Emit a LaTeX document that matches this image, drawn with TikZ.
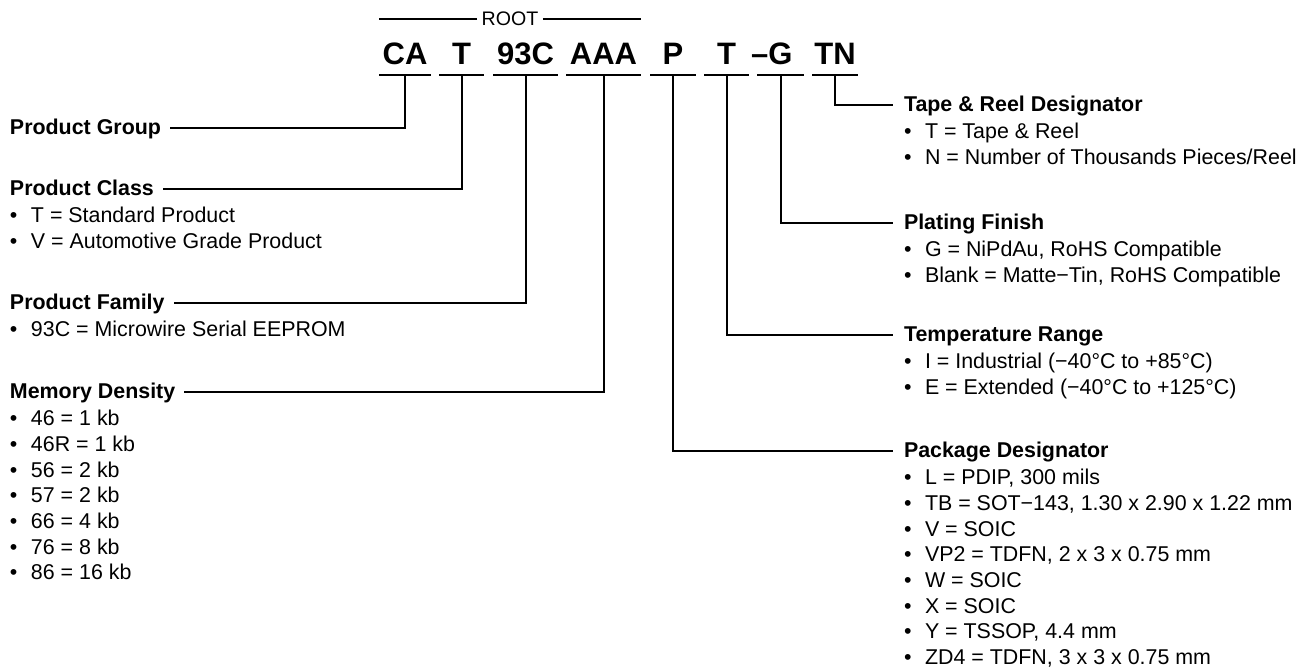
\documentclass[tikz,border=0pt]{standalone}
\usepackage{fontspec}
\setmainfont{Liberation Sans}
\usetikzlibrary{positioning,calc}
\newcommand{\bul}[1]{\makebox[10.5pt][l]{\textbullet}#1}

\begin{document}
\begin{tikzpicture}[x=0.5pt,y=-0.5pt,line width=1pt,
  field/.style={font=\fontsize{15.5}{18}\selectfont\bfseries,inner xsep=0pt,inner ysep=4.5pt,text depth=0pt,anchor=base},
  head/.style={font=\fontsize{10.7}{12.8}\selectfont\bfseries,inner sep=0pt,anchor=base west},
  itm/.style={font=\fontsize{10.7}{12.8}\selectfont,inner sep=0pt,anchor=base west}]
\useasboundingbox (0,0) rectangle (1304,672);
% part number fields, each one underlined
\foreach \n/\x/\w/\lbl in {ca/405/50/CA,cls/461.5/43/T,fam/525.5/63/93C,dens/603.5/73/AAA,
    pkg/673/44/P,tmp/726.5/43/T,fin/780.5/45/\llap{–}G,tnr/835/44/TN}{
  \node[field,minimum width=\w*0.5pt] (\n) at (\x,65) {\lbl};
  \draw (\n.south west) -- (\n.south east);
}
\node[font=\fontsize{9.8}{12}\selectfont,inner xsep=1.75pt,inner ysep=0pt] (root) at (510,19) {ROOT};
\draw (root.west) -- (root.west -| ca.south west);
\draw (root.east) -- (root.east -| dens.south east);
% left column
\node[head] (pg) at (9,135) {Product Group};
\node[head] (pc) at (9,196) {Product Class};
\node[head] (pfam) at (9,310) {Product Family};
\node[head] (md) at (9,399) {Memory Density};
% right column
\node[head] (tape) at (903,112) {Tape \& Reel Designator};
\node[head] (plat) at (903,230) {Plating Finish};
\node[head] (trange) at (903,342) {Temperature Range};
\node[head] (pkgd) at (903,458) {Package Designator};
\foreach \f/\h in {ca/pg,cls/pc,fam/pfam,dens/md}
  \draw (\f.south) |- ([xshift=4pt,yshift=3.5pt]\h.base east);
\foreach \f/\h in {pkg/pkgd,tmp/trange,fin/plat,tnr/tape}
  \draw (\f.south) |- ([xshift=-5pt,yshift=3.5pt]\h.base west);
% bullet lists
\foreach \s [count=\k] in {T = Standard Product,V = Automotive Grade Product}
  \node[itm] at ([yshift={-13.5pt-(\k-1)*12.8pt}]pc.base west) {\bul{\s}};
\foreach \s [count=\k] in {93C = Microwire Serial EEPROM}
  \node[itm] at ([yshift={-13.5pt-(\k-1)*12.8pt}]pfam.base west) {\bul{\s}};
\foreach \s [count=\k] in {46 = 1 kb,46R = 1 kb,56 = 2 kb,57 = 2 kb,66 = 4 kb,76 = 8 kb,86 = 16 kb}
  \node[itm] at ([yshift={-13.5pt-(\k-1)*12.8pt}]md.base west) {\bul{\s}};
\foreach \s [count=\k] in {T = Tape \& Reel,N = Number of Thousands Pieces/Reel}
  \node[itm] at ([yshift={-13.5pt-(\k-1)*12.8pt}]tape.base west) {\bul{\s}};
\foreach \s [count=\k] in {{G = NiPdAu, RoHS Compatible},{Blank = Matte−Tin, RoHS Compatible}}
  \node[itm] at ([yshift={-13.5pt-(\k-1)*12.8pt}]plat.base west) {\bul{\s}};
\foreach \s [count=\k] in {I = Industrial (−40°C to +85°C),E = Extended (−40°C to +125°C)}
  \node[itm] at ([yshift={-13.5pt-(\k-1)*12.8pt}]trange.base west) {\bul{\s}};
\foreach \s [count=\k] in {{L = PDIP, 300 mils},{TB = SOT−143, 1.30 x 2.90 x 1.22 mm},V = SOIC,
    {VP2 = TDFN, 2 x 3 x 0.75 mm},W = SOIC,X = SOIC,{Y = TSSOP, 4.4 mm},{ZD4 = TDFN, 3 x 3 x 0.75 mm}}
  \node[itm] at ([yshift={-13.5pt-(\k-1)*12.8pt}]pkgd.base west) {\bul{\s}};
\end{tikzpicture}
\end{document}
